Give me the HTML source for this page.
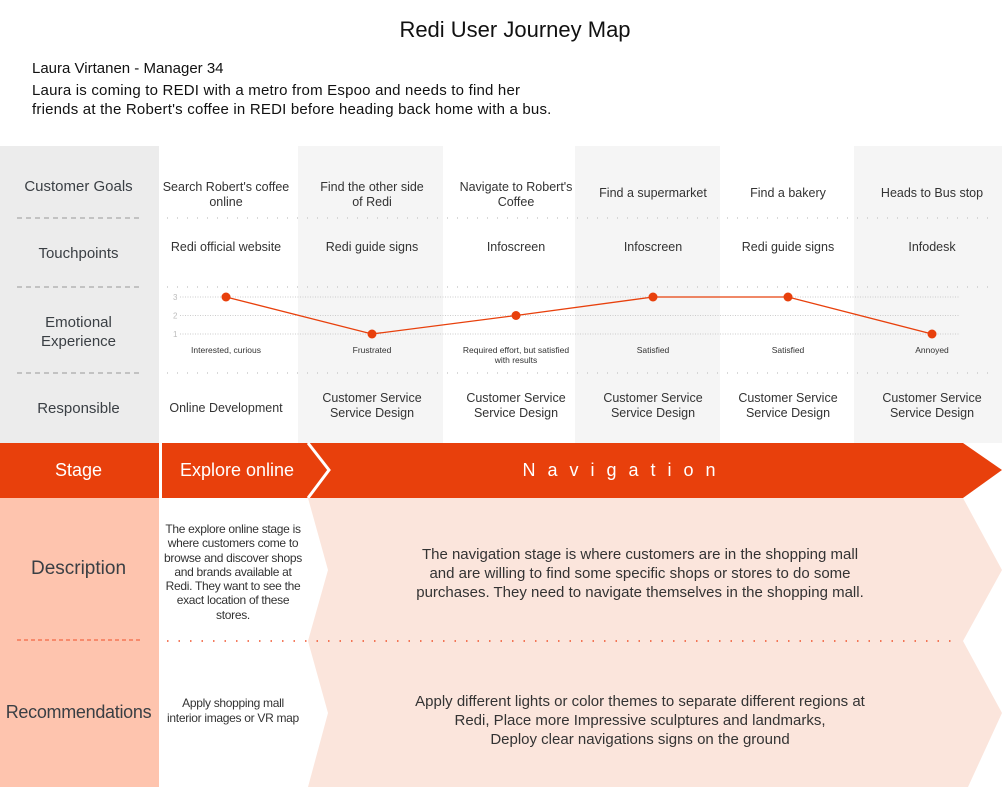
<!DOCTYPE html>
<html><head><meta charset="utf-8">
<style>
body{margin:0;width:1002px;height:787px;overflow:hidden;background:#fff;font-family:"Liberation Sans","DejaVu Sans",sans-serif;color:#333;position:relative}
.a{position:absolute;text-align:center}
.t{font-size:12px;color:#333;letter-spacing:-0.3px}
.lab{font-size:15px;color:#3a3f44}
</style></head><body>
<svg width="1002" height="787" style="position:absolute;left:0;top:0">
<rect x="0" y="146" width="159" height="297" fill="#ececec"/>
<rect x="298" y="146" width="145" height="297" fill="#f5f5f5"/>
<rect x="575" y="146" width="145" height="297" fill="#f5f5f5"/>
<rect x="854" y="146" width="148" height="297" fill="#f5f5f5"/>
<g stroke="#999" stroke-dasharray="5,4" stroke-width="1">
<line x1="17" y1="218" x2="141" y2="218"/><line x1="17" y1="287" x2="141" y2="287"/><line x1="17" y1="373" x2="141" y2="373"/></g>
<g stroke="#ccc" stroke-dasharray="1,9" stroke-width="1.5">
<line x1="167" y1="218" x2="990" y2="218"/><line x1="167" y1="287" x2="990" y2="287"/><line x1="167" y1="373" x2="990" y2="373"/></g>
<rect x="0" y="443" width="159" height="55" fill="#e8400c"/>
<polygon points="162,443 963,443 1002,470 963,498 162,498" fill="#e8400c"/>
<polyline points="308,443 329,470 308,498" fill="none" stroke="#fff" stroke-width="3"/>
<rect x="0" y="498" width="159" height="289" fill="#fec4ae"/>
<polygon points="308,498 963,498 1002,570 963,641 1002,713 968,787 308,787 328,713 308,641 328,570" fill="#fbe5dc"/>
<line x1="17" y1="640" x2="141" y2="640" stroke="#f0502a" stroke-dasharray="4,3"/>
<line x1="167" y1="641" x2="960" y2="641" stroke="#f0502a" stroke-dasharray="1.5,10" stroke-width="1.5"/>
</svg>
<svg id="chart" width="1002" height="787" style="position:absolute;left:0;top:0"></svg>
<div class="a" style="left:0;top:17px;width:1030px;font-size:22px;color:#111">Redi User Journey Map</div>
<div class="a" style="left:32px;top:60px;text-align:left;font-size:15px;color:#111">Laura Virtanen - Manager 34</div>
<div class="a" style="left:32px;top:81px;text-align:left;font-size:15px;line-height:19px;color:#111;letter-spacing:0.2px">Laura is coming to REDI with a metro from Espoo and needs to find her<br>friends at the Robert's coffee in REDI before heading back home with a bus.</div>
<div class="a lab" style="left:0;top:178px;width:157px">Customer Goals</div>
<div class="a lab" style="left:0;top:245px;width:157px">Touchpoints</div>
<div class="a lab" style="left:0;top:313px;width:157px;line-height:19px">Emotional<br>Experience</div>
<div class="a lab" style="left:0;top:400px;width:157px">Responsible</div>
<div id="cols"></div>
<div class="a" style="left:0;top:460px;width:157px;font-size:18px;color:#fff">Stage</div>
<div class="a" style="left:162px;top:460px;width:150px;font-size:18px;color:#fff">Explore online</div>
<div class="a" style="left:330px;top:460px;width:590px;font-size:18px;color:#fff;letter-spacing:12px">Navigation</div>
<div class="a" style="left:0;top:558px;width:157px;font-size:19px;color:#3a3f44">Description</div>
<div class="a" style="left:0;top:702px;width:157px;font-size:18px;color:#3a3f44;letter-spacing:-0.3px">Recommendations</div>
<div class="a t" style="left:160px;top:522px;width:146px;line-height:14.3px">The explore online stage is where customers come to browse and discover shops and brands available at Redi. They want to see the exact location of these stores.</div>
<div class="a t" style="left:160px;top:696px;width:146px;line-height:14.5px">Apply shopping mall<br>interior images or VR map</div>
<div class="a" style="left:330px;top:545px;width:620px;font-size:15px;line-height:19px;color:#333">The navigation stage is where customers are in the shopping mall<br>and are willing to find some specific shops or stores to do some<br>purchases. They need to navigate themselves in the shopping mall.</div>
<div class="a" style="left:330px;top:692px;width:620px;font-size:15px;line-height:19px;color:#333">Apply different lights or color themes to separate different regions at<br>Redi, Place more Impressive sculptures and landmarks,<br>Deploy clear navigations signs on the ground</div>
<script>
const goals=["Search Robert's coffee online","Find the other side of Redi","Navigate to Robert's Coffee","Find a supermarket","Find a bakery","Heads to Bus stop"];
const touchpoints=["Redi official website","Redi guide signs","Infoscreen","Infoscreen","Redi guide signs","Infodesk"];
const emotions=[3,1,2,3,3,1];
const emotionLabels=["Interested, curious","Frustrated","Required effort, but satisfied with results","Satisfied","Satisfied","Annoyed"];
const responsible=["Online Development","Customer Service Service Design","Customer Service Service Design","Customer Service Service Design","Customer Service Service Design","Customer Service Service Design"];
const yTicks=[1,2,3];
const NS="http://www.w3.org/2000/svg";
const centers=[226,372,516,653,788,932];
const widths=[130,115,120,135,125,140];
const x=i=>centers[i];
const y=v=>334-(v-1)*18.5;
const svg=document.getElementById('chart');
yTicks.forEach(t=>{
 const l=document.createElementNS(NS,'line');
 l.setAttribute('x1',180);l.setAttribute('x2',960);l.setAttribute('y1',y(t));l.setAttribute('y2',y(t));
 l.setAttribute('stroke','#ccc');l.setAttribute('stroke-dasharray','1,1.5');
 
 
 svg.appendChild(l);
 const tx=document.createElementNS(NS,'text');
 tx.setAttribute('x',173);tx.setAttribute('y',y(t)+3);tx.setAttribute('font-size','8');tx.setAttribute('fill','#bbb');tx.textContent=t;
 
 
 svg.appendChild(tx);
});
const pl=document.createElementNS(NS,'polyline');
pl.setAttribute('points',emotions.map((v,i)=>x(i)+','+y(v)).join(' '));
pl.setAttribute('fill','none');pl.setAttribute('stroke','#e8400c');pl.setAttribute('stroke-width','1.3');


svg.appendChild(pl);
emotions.forEach((v,i)=>{
 const c=document.createElementNS(NS,'circle');
 c.setAttribute('cx',x(i));c.setAttribute('cy',y(v));c.setAttribute('r',4.5);c.setAttribute('fill','#e8400c');
 
 
 svg.appendChild(c);
});
const cols=document.getElementById('cols');
function cell(txt,i,top,fs,name,lh,w){
 const d=document.createElement('div');
 d.className='a';
 const ww=w||widths[i];
 d.style.cssText=`left:${x(i)-ww/2}px;width:${ww}px;top:${top}px;font-size:${fs}px;line-height:${lh}px;color:#333`;
 d.textContent=txt;
 
 
 cols.appendChild(d);
}
goals.forEach((g,i)=>{const one=g.length<22;cell(g,i,one?186:180,12.5,'customer-goal',14.5);});
touchpoints.forEach((g,i)=>cell(g,i,240,12.5,'touchpoint',14));
emotionLabels.forEach((g,i)=>cell(g,i,345,8.5,'emotion-label',10,i==2?115:130));
responsible.forEach((g,i)=>cell(g,i,i==0?401:391,12.5,'responsible-team',15));
</script>
</body></html>
